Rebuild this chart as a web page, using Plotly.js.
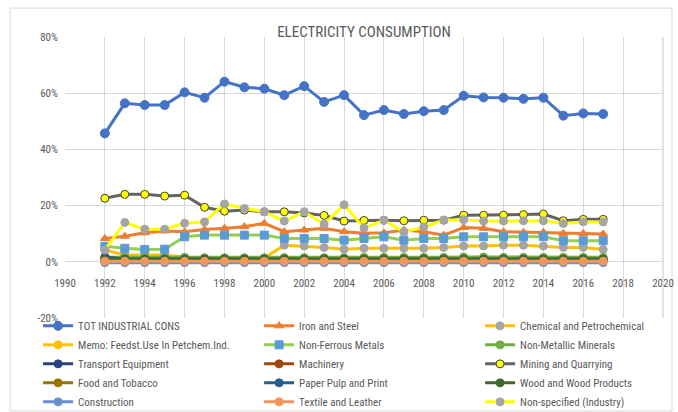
<!DOCTYPE html>
<html>
<head>
<meta charset="utf-8">
<script src="https://cdn.plot.ly/plotly-3.0.1.min.js"></script>
<style>html,body{margin:0;padding:0;background:#fff;}#chart{width:678px;height:412px;}</style>
</head>
<body>
<div id="chart"></div>
<script>
const years = [1992,1993,1994,1995,1996,1997,1998,1999,2000,2001,2002,2003,2004,2005,2006,2007,2008,2009,2010,2011,2012,2013,2014,2015,2016,2017];

const totIndustrial = [45.7,56.4,55.8,55.8,60.3,58.4,64.1,62.1,61.6,59.3,62.5,56.9,59.3,52.2,54.0,52.6,53.6,54.0,59.1,58.5,58.4,58.0,58.4,52.0,52.8,52.6];
const ironSteel = [8.3,9.1,10.3,11.0,10.7,11.5,11.9,12.5,13.7,10.7,11.3,11.9,10.7,10.2,10.3,11.3,10.7,9.5,12.2,11.9,10.7,10.5,10.5,10.1,10.1,9.9];
const chemical = [4.2,2.4,2.4,2.4,1.6,1.4,1.4,1.4,1.4,5.9,5.6,5.1,4.5,4.8,4.8,4.8,4.8,5.1,5.6,5.6,5.9,5.9,5.6,5.1,5.1,4.4];
const memoFeedstock = [0.3,0.3,0.3,0.3,0.3,0.3,0.3,0.3,0.3,0.3,0.3,0.3,0.3,0.3,0.3,0.3,0.3,0.3,0.3,0.3,0.3,0.3,0.3,0.3,0.3,0.3];
const nonFerrous = [5.5,4.8,4.4,4.5,8.9,9.5,9.5,9.5,9.5,8.3,8.3,8.3,7.7,8.3,8.9,7.7,8.3,8.3,8.9,8.9,8.9,8.9,8.9,7.5,7.5,7.5];
const nonMetallic = [1.6,1.6,1.5,1.5,1.5,1.4,1.4,1.4,1.4,1.5,1.5,1.5,1.5,1.6,1.6,1.6,1.6,1.6,1.7,1.7,1.6,1.6,1.6,1.6,1.6,1.6];
const transport = [1.2,0.6,0.6,0.6,0.6,0.6,0.6,0.6,0.6,0.6,0.6,0.6,0.6,0.6,0.6,0.6,0.6,0.6,0.6,0.6,0.6,0.6,0.6,0.6,0.6,0.6];
const machinery = [0.3,0.3,0.3,0.3,0.3,0.3,0.3,0.3,0.3,0.3,0.3,0.3,0.3,0.3,0.3,0.3,0.3,0.3,0.3,0.3,0.3,0.3,0.3,0.3,0.3,0.3];
const mining = [22.6,24.0,24.0,23.4,23.7,19.4,18.0,18.4,17.8,17.8,17.4,16.5,14.5,14.7,14.8,14.6,14.8,14.8,16.6,16.6,16.6,16.8,17.0,14.6,15.1,15.1];
const foodTobacco = [0.5,0.5,0.5,0.5,0.5,0.5,0.5,0.5,0.5,0.5,0.5,0.5,0.5,0.5,0.5,0.5,0.5,0.5,0.5,0.5,0.5,0.5,0.5,0.5,0.5,0.5];
const paperPrint = [1.8,0.9,0.9,0.9,0.9,0.9,0.9,0.9,0.9,0.9,0.9,0.9,0.9,0.9,0.9,0.9,0.9,0.9,0.9,0.9,0.9,0.9,0.9,0.9,0.9,0.9];
const woodProducts = [1.0,1.0,1.0,1.0,1.0,1.0,1.0,1.0,1.0,1.0,1.0,1.0,1.0,1.0,1.0,1.0,1.0,1.0,1.0,1.0,1.0,1.0,1.0,1.0,1.0,1.0];
const construction = [-0.3,-0.3,-0.3,-0.3,-0.3,-0.3,-0.3,-0.3,-0.3,-0.3,-0.3,-0.3,-0.3,-0.3,-0.3,-0.3,-0.3,-0.3,-0.3,-0.3,-0.3,-0.3,-0.3,-0.3,-0.3,-0.3];
const textileLeather = [0.2,0.2,0.2,0.2,0.2,0.2,0.2,0.2,0.2,0.2,0.2,0.2,0.2,0.2,0.2,0.2,0.2,0.2,0.2,0.2,0.2,0.2,0.2,0.2,0.2,0.2];
const nonSpecified = [4.2,14.0,11.6,11.6,13.7,14.2,20.6,19.0,17.8,14.5,17.8,13.4,20.3,12.0,14.8,10.6,12.3,14.9,15.0,14.5,14.5,14.6,14.6,13.6,14.2,14.2];

const seriesNames = ["TOT INDUSTRIAL CONS","Iron and Steel","Chemical and Petrochemical","Memo: Feedst.Use In Petchem.Ind.","Non-Ferrous Metals","Non-Metallic Minerals","Transport Equipment","Machinery","Mining and Quarrying","Food and Tobacco","Paper Pulp and Print","Wood and Wood Products","Construction","Textile and Leather","Non-specified (Industry)"];
const yTickVals = [-20,0,20,40,60,80];
const yTickText = ["-20%","0%","20%","40%","60%","80%"];
const xTickVals = [1990,1992,1994,1996,1998,2000,2002,2004,2006,2008,2010,2012,2014,2016,2018,2020];

const seriesValues = [totIndustrial,ironSteel,chemical,memoFeedstock,nonFerrous,nonMetallic,transport,machinery,mining,foodTobacco,paperPrint,woodProducts,construction,textileLeather,nonSpecified];
const styles = [
  {line:"#4472C4", fill:"#4472C4", edge:"#4472C4", sym:"circle"},
  {line:"#ED7D31", fill:"#ED7D31", edge:"#ED7D31", sym:"triangle-up"},
  {line:"#FFC000", fill:"#A5A5A5", edge:"#A5A5A5", sym:"circle"},
  {line:"#FFC000", fill:"#FFC000", edge:"#FFC000", sym:"circle"},
  {line:"#92D050", fill:"#5B9BD5", edge:"#5B9BD5", sym:"square"},
  {line:"#70AD47", fill:"#70AD47", edge:"#70AD47", sym:"circle"},
  {line:"#264478", fill:"#264478", edge:"#264478", sym:"circle"},
  {line:"#9E480E", fill:"#9E480E", edge:"#9E480E", sym:"circle"},
  {line:"#636363", fill:"#FFFF00", edge:"#404040", sym:"circle"},
  {line:"#997300", fill:"#997300", edge:"#997300", sym:"circle"},
  {line:"#255E91", fill:"#255E91", edge:"#255E91", sym:"circle"},
  {line:"#43682B", fill:"#43682B", edge:"#43682B", sym:"circle"},
  {line:"#698ED0", fill:"#698ED0", edge:"#698ED0", sym:"circle"},
  {line:"#F1975A", fill:"#F1975A", edge:"#F1975A", sym:"circle"},
  {line:"#FFFF00", fill:"#A5A5A5", edge:"#A5A5A5", sym:"circle"}
];

const FONT = "'Liberation Sans Narrow', 'Arial Narrow', 'Roboto Condensed', Roboto, sans-serif";

const traces = seriesNames.map((name, i) => ({
  type: "scatter",
  mode: "lines+markers",
  name: name,
  x: years,
  y: seriesValues[i],
  line: {color: styles[i].line, width: 3},
  marker: {color: styles[i].fill, symbol: styles[i].sym, size: i === 0 ? 9 : 8,
           line: {color: styles[i].edge, width: 1}}
}));

const layout = {
  width: 678, height: 412,
  paper_bgcolor: "#fff", plot_bgcolor: "#fff",
  margin: {l: 65, r: 15, t: 37, b: 94, autoexpand: false},
  font: {family: FONT, color: "#595959", size: 11},
  title: {text: "ELECTRICITY CONSUMPTION", x: 0.5, xref: "paper", y: 1, yref: "paper", yanchor: "bottom", pad: {b: 0},
          font: {family: FONT, size: 15, color: "#595959"}},
  showlegend: true,
  legend: {orientation: "h", x: -0.045, xanchor: "left", y: -0.35, yanchor: "bottom",
           entrywidth: 176, entrywidthmode: "pixels", traceorder: "normal",
           font: {family: FONT, size: 11, color: "#595959"}, bgcolor: "rgba(0,0,0,0)"},
  xaxis: {range: [1990, 2020], tickvals: xTickVals, showgrid: true, gridcolor: "#d9d9d9", gridwidth: 1,
          zeroline: false, showline: false, anchor: "free", position: 0.2, ticks: "",
          ticklabelstandoff: 13, tickfont: {family: FONT, size: 11, color: "#595959"}},
  yaxis: {range: [-20, 80], tickvals: yTickVals, ticktext: yTickText, showgrid: true, gridcolor: "#d9d9d9",
          gridwidth: 1, zeroline: false, showline: false, ticks: "", ticklabelstandoff: 6,
          tickfont: {family: FONT, size: 11, color: "#595959"}},
  shapes: [
    {type: "rect", xref: "paper", yref: "paper", x0: 1, x1: 1, y0: -0.0, y1: 1, line: {color: "#d9d9d9", width: 1}},
    {type: "rect", xref: "paper", yref: "paper", x0: -0.092, x1: 1.015, y0: -0.331, y1: 1.103,
     line: {color: "#d9d9d9", width: 1}, layer: "below"}
  ]
};

Plotly.newPlot("chart", traces, layout, {displayModeBar: false, staticPlot: true});
</script>
</body>
</html>
